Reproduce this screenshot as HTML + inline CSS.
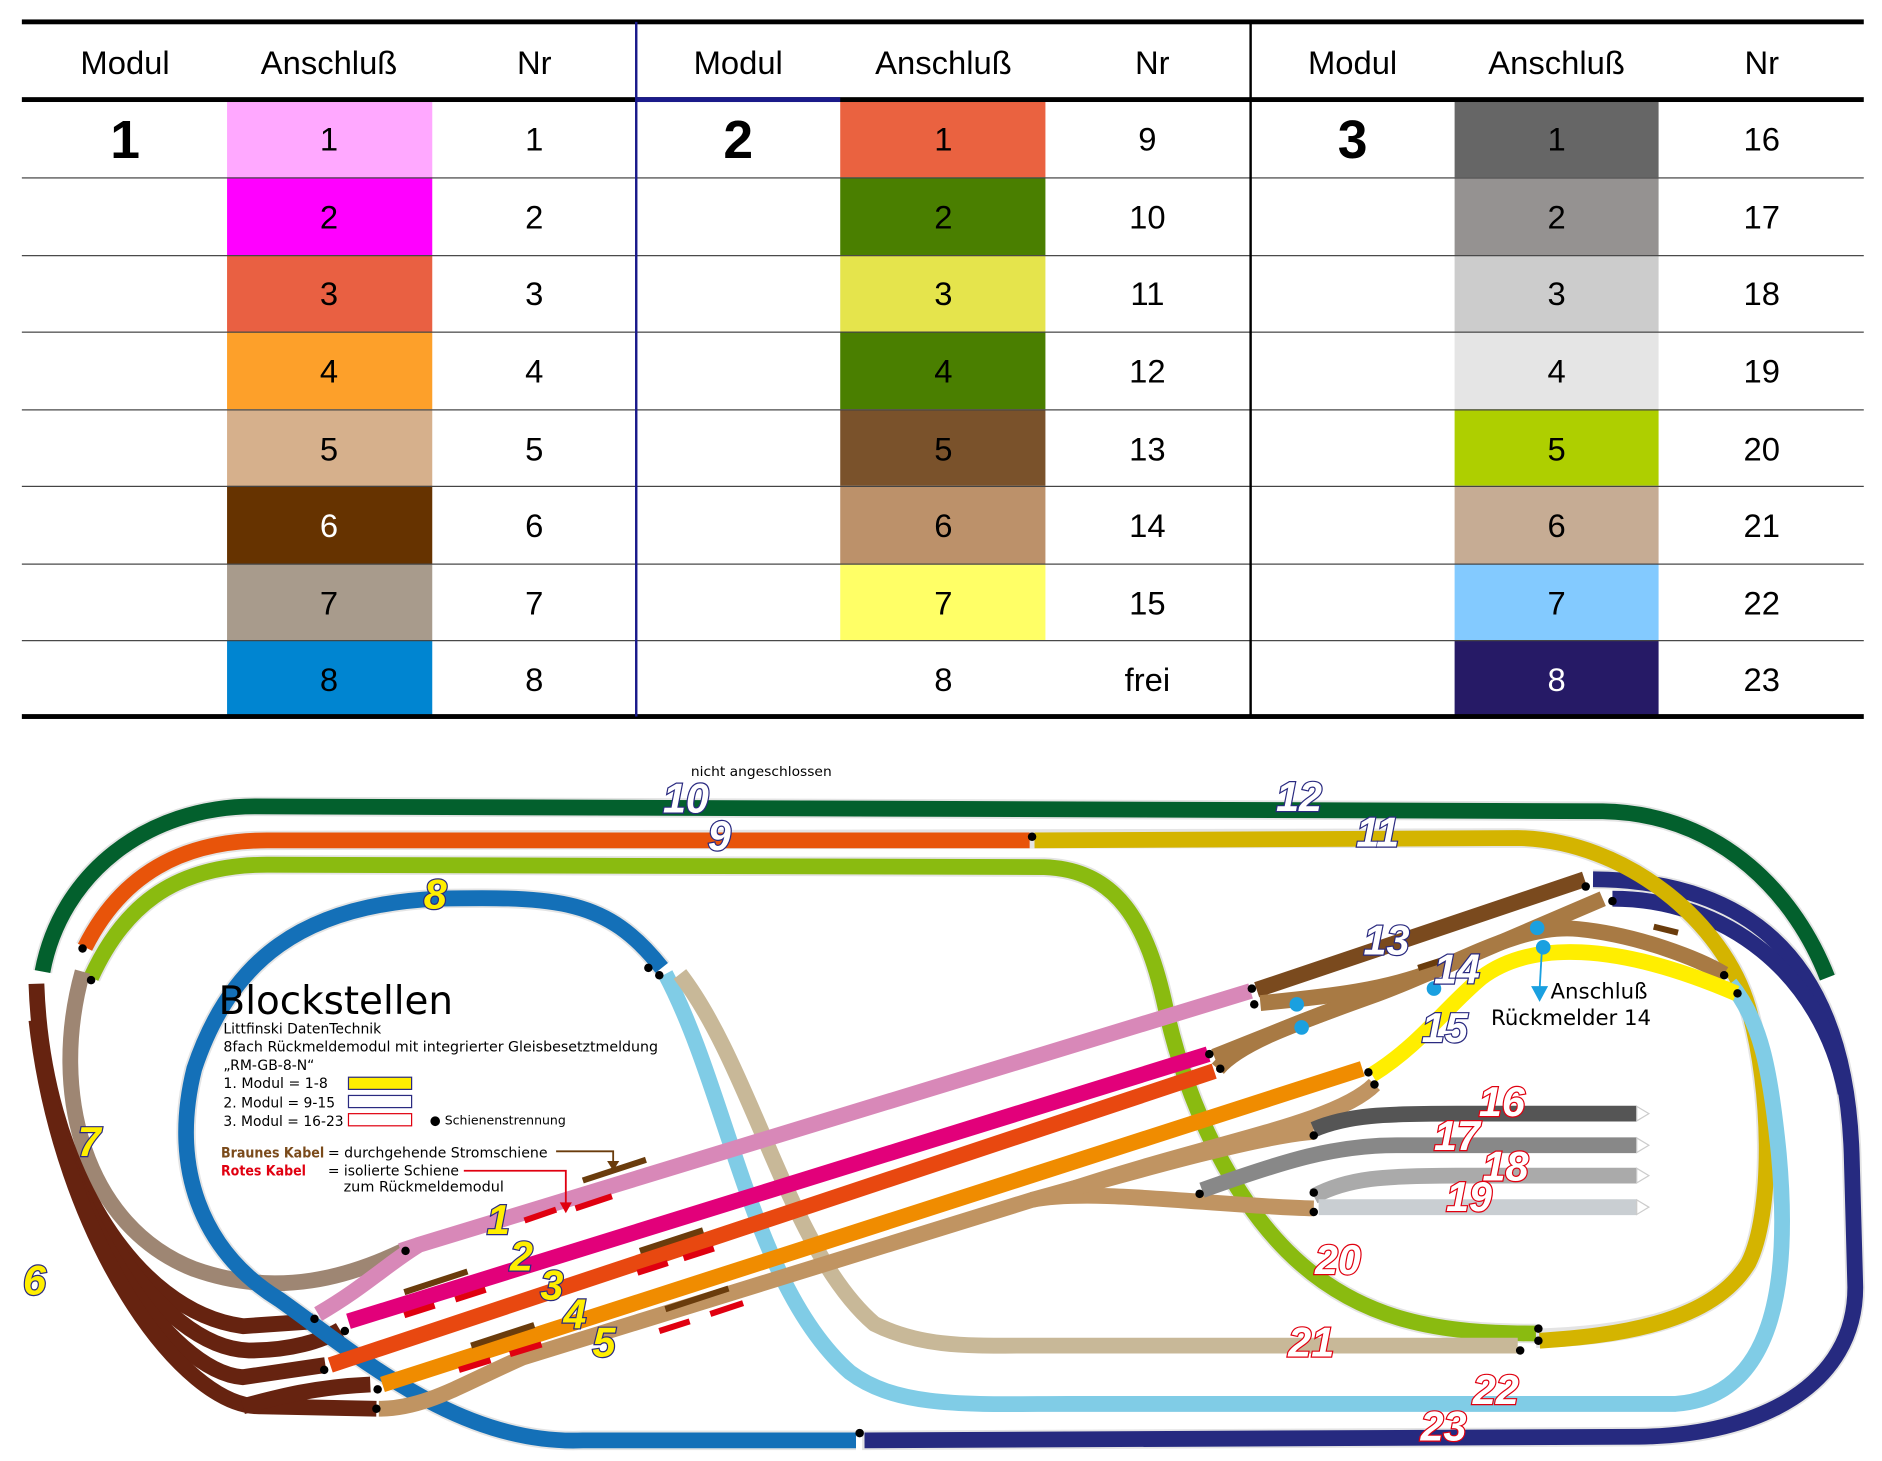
<!DOCTYPE html>
<html><head><meta charset="utf-8"><style>
html,body{margin:0;padding:0;background:#fff;}
svg{display:block;}
.t{font-family:"Liberation Sans Narrow","Liberation Sans",sans-serif;font-size:27px;text-anchor:middle;}
.b{font-family:"Liberation Sans",sans-serif;font-size:44px;font-weight:bold;text-anchor:middle;}
.tr{fill:none;stroke-linecap:butt;stroke-width:13;}
.lab{font-family:"Liberation Sans",sans-serif;font-weight:bold;font-style:italic;stroke-width:2;paint-order:stroke;}
.y{fill:#ffee00;stroke:#2a2a80;}
.w{fill:#fff;stroke:#2a2a80;}
.r{fill:#fff;stroke:#e00010;}
.s{font-family:"DejaVu Sans","Liberation Sans",sans-serif;}
</style></head><body>
<svg width="1882" height="1461" viewBox="0 0 1550 1203" preserveAspectRatio="none" xmlns="http://www.w3.org/2000/svg">
<g>
<rect x="187" y="83" width="169" height="63" fill="#ffa8ff"/>
<rect x="187" y="146" width="169" height="64" fill="#ff00ff"/>
<rect x="187" y="210" width="169" height="63" fill="#e96042"/>
<rect x="187" y="273" width="169" height="64" fill="#fda02a"/>
<rect x="187" y="337" width="169" height="63" fill="#d6b08c"/>
<rect x="187" y="400" width="169" height="64" fill="#663300"/>
<rect x="187" y="464" width="169" height="63" fill="#a89b8c"/>
<rect x="187" y="527" width="169" height="63" fill="#0085d1"/>
<rect x="692" y="83" width="169" height="63" fill="#ea6240"/>
<rect x="692" y="146" width="169" height="64" fill="#4a7f00"/>
<rect x="692" y="210" width="169" height="63" fill="#e5e44c"/>
<rect x="692" y="273" width="169" height="64" fill="#4a7f00"/>
<rect x="692" y="337" width="169" height="63" fill="#7a522b"/>
<rect x="692" y="400" width="169" height="64" fill="#bc916a"/>
<rect x="692" y="464" width="169" height="63" fill="#ffff66"/>
<rect x="1198" y="83" width="168" height="63" fill="#666666"/>
<rect x="1198" y="146" width="168" height="64" fill="#959291"/>
<rect x="1198" y="210" width="168" height="63" fill="#cccccc"/>
<rect x="1198" y="273" width="168" height="64" fill="#e5e5e5"/>
<rect x="1198" y="337" width="168" height="63" fill="#aecf00"/>
<rect x="1198" y="400" width="168" height="64" fill="#c6ac94"/>
<rect x="1198" y="464" width="168" height="63" fill="#83caff"/>
<rect x="1198" y="527" width="168" height="63" fill="#261a66"/>
<rect x="18" y="16" width="1517" height="4" fill="#000"/>
<rect x="18" y="80" width="1517" height="4" fill="#000"/>
<rect x="524" y="80" width="168" height="4" fill="#1a1a8a"/>
<rect x="18" y="588" width="1517" height="4" fill="#000"/>
<g fill="#444">
<rect x="18" y="146" width="1517" height="1"/><rect x="18" y="210" width="1517" height="1"/>
<rect x="18" y="273" width="1517" height="1"/><rect x="18" y="337" width="1517" height="1"/>
<rect x="18" y="400" width="1517" height="1"/><rect x="18" y="464" width="1517" height="1"/>
<rect x="18" y="527" width="1517" height="1"/>
</g>
<rect x="523" y="18" width="2" height="572" fill="#1a1a8a"/>
<rect x="1029" y="18" width="2" height="572" fill="#000"/>
<text class="t" x="103" y="61">Modul</text><text class="t" x="271" y="61">Anschluß</text><text class="t" x="440" y="61">Nr</text>
<text class="t" x="608" y="61">Modul</text><text class="t" x="777" y="61">Anschluß</text><text class="t" x="949" y="61">Nr</text>
<text class="t" x="1114" y="61">Modul</text><text class="t" x="1282" y="61">Anschluß</text><text class="t" x="1451" y="61">Nr</text>
<text class="b" x="103" y="130">1</text><text class="b" x="608" y="130">2</text><text class="b" x="1114" y="130">3</text>
<g class="t">
<text x="271" y="124">1</text><text x="440" y="124">1</text>
<text x="271" y="188">2</text><text x="440" y="188">2</text>
<text x="271" y="251">3</text><text x="440" y="251">3</text>
<text x="271" y="315">4</text><text x="440" y="315">4</text>
<text x="271" y="379">5</text><text x="440" y="379">5</text>
<text x="271" y="442" fill="#fff">6</text><text x="440" y="442">6</text>
<text x="271" y="506">7</text><text x="440" y="506">7</text>
<text x="271" y="569">8</text><text x="440" y="569">8</text>
<text x="777" y="124">1</text><text x="945" y="124">9</text>
<text x="777" y="188">2</text><text x="945" y="188">10</text>
<text x="777" y="251">3</text><text x="945" y="251">11</text>
<text x="777" y="315">4</text><text x="945" y="315">12</text>
<text x="777" y="379">5</text><text x="945" y="379">13</text>
<text x="777" y="442">6</text><text x="945" y="442">14</text>
<text x="777" y="506">7</text><text x="945" y="506">15</text>
<text x="777" y="569">8</text><text x="945" y="569">frei</text>
<text x="1282" y="124">1</text><text x="1451" y="124">16</text>
<text x="1282" y="188">2</text><text x="1451" y="188">17</text>
<text x="1282" y="251">3</text><text x="1451" y="251">18</text>
<text x="1282" y="315">4</text><text x="1451" y="315">19</text>
<text x="1282" y="379">5</text><text x="1451" y="379">20</text>
<text x="1282" y="442">6</text><text x="1451" y="442">21</text>
<text x="1282" y="506">7</text><text x="1451" y="506">22</text>
<text x="1282" y="569" fill="#fff">8</text><text x="1451" y="569">23</text>
</g>
</g>

<g class="tr" stroke-linejoin="round">
<g stroke="#e4e4e4" stroke-width="16">
<path d="M35,800 C50,720 120,664 210,664 L1320,668 C1420,670 1480,740 1505,805"/>
<path d="M70,780 C100,720 150,692 220,692 L1250,690 C1340,692 1420,760 1440,830 C1460,900 1460,1000 1440,1040 C1410,1090 1330,1100 1265,1102"/>
<path d="M75,805 C100,750 140,712 220,712 L860,714 C920,716 945,760 960,830 C980,920 1020,990 1060,1030 C1120,1090 1190,1098 1265,1098"/>
<path d="M1312,724 C1450,725 1520,800 1525,950 L1528,1060 C1528,1140 1450,1182 1350,1183 L710,1186"/>
<path d="M545,797 C500,740 460,738 360,740 C250,745 190,790 160,880 C140,960 165,1030 230,1070 C300,1120 380,1190 480,1186 L705,1186"/>
</g>
<path stroke="#03602d" d="M35,800 C50,720 120,664 210,664 L1320,668 C1420,670 1480,740 1505,805"/>
<path stroke="#262a80" d="M1312,724 C1450,725 1520,800 1525,950 L1528,1060 C1528,1140 1450,1182 1350,1183 L712,1186"/>
<path stroke="#262a80" d="M1328,740 C1420,740 1500,800 1520,900"/>
<path stroke="#d4b400" d="M852,692 L1250,690 C1340,692 1420,760 1440,830 C1460,900 1460,1000 1440,1040 C1410,1090 1330,1100 1268,1104"/>
<path stroke="#e8540a" d="M70,780 C100,720 150,692 220,692 L848,692"/>
<path stroke="#8abb10" d="M75,805 C100,750 140,712 220,712 L860,714 C920,716 945,760 960,830 C980,920 1020,990 1060,1030 C1120,1090 1190,1098 1265,1098"/>
<path stroke="#9e8673" d="M68,800 C40,900 70,1010 160,1045 C230,1070 290,1050 332,1030"/>
<path stroke="#662310" d="M30,810 C35,960 110,1080 200,1092 L258,1088"/>
<path stroke="#662310" d="M34,860 C50,980 130,1110 205,1112 C240,1112 265,1104 280,1095"/>
<path stroke="#662310" d="M34,860 C50,1000 140,1130 200,1134 L268,1124"/>
<path stroke="#662310" d="M30,840 C50,1020 150,1160 215,1158 L310,1160"/>
<path stroke="#662310" d="M200,1158 C230,1150 260,1142 305,1140"/>
<path stroke="#1470b8" d="M545,797 C500,740 460,738 360,740 C250,745 190,790 160,880 C140,960 165,1030 230,1070 C300,1120 380,1190 480,1186 L705,1186"/>
<path stroke="#80cce6" d="M548,802 C600,900 620,1060 700,1130 C740,1160 800,1156 880,1156 L1380,1156 C1460,1150 1475,1060 1465,950 C1458,880 1450,840 1425,810"/>
<path stroke="#c8b898" d="M560,802 C620,880 650,1030 720,1090 C760,1110 800,1108 850,1108 L1250,1108"/>
<path stroke="#c09462" d="M312,1160 C350,1160 380,1140 430,1118 L850,988 C900,978 1000,993 1082,995"/>
<path stroke="#c09462" d="M850,988 C950,960 1040,935 1082,932"/>
<path stroke="#c09462" d="M880,980 C1000,940 1100,925 1132,893"/>
<path stroke="#f08c00" d="M315,1140 L1122,880"/>
<path stroke="#e84810" d="M272,1124 L1000,882"/>
<path stroke="#e2007a" d="M287,1088 L995,868"/>
<path stroke="#d888b8" d="M262,1082 C300,1060 320,1040 345,1025 L1030,816"/>
<path stroke="#d888b8" d="M330,1030 L345,1025"/>
<path stroke="#7a4a1e" d="M1035,815 L1305,724"/>
<path stroke="#a87a44" d="M1038,826 C1100,820 1140,815 1180,800 L1320,740"/>
<path stroke="#a87a44" d="M1003,880 C1020,860 1060,845 1130,820 C1200,795 1250,760 1300,765 C1350,770 1400,790 1420,802"/>
<path stroke="#a87a44" d="M1000,870 C1050,850 1100,830 1150,812"/>
<path stroke="#ffee00" d="M1130,885 C1170,860 1190,830 1220,805 C1260,775 1330,775 1430,818"/>
<path stroke="#555555" d="M1082,930 C1110,918 1140,917 1200,917 L1348,917"/>
<path stroke="#888888" d="M990,980 C1060,955 1100,943 1150,943 L1348,943"/>
<path stroke="#aaaaaa" d="M1082,985 C1110,970 1140,968 1200,968 L1348,968"/>
<path stroke="#c9ced2" d="M1086,994 L1348,994"/>
</g>
<g fill="#fff" stroke="#ccc" stroke-width="1">
<path d="M1348,911 L1358,917 L1348,923Z"/><path d="M1348,937 L1358,943 L1348,949Z"/>
<path d="M1348,962 L1358,968 L1348,974Z"/><path d="M1348,988 L1358,994 L1348,1000Z"/>
</g>
<g stroke-width="5">
<g stroke="#6a3c0c">
<path d="M480,972 L532,955"/><path d="M333,1064 L385,1047"/><path d="M527,1030 L579,1013"/>
<path d="M388,1108 L440,1091"/><path d="M548,1078 L600,1061"/><path d="M1168,797 L1190,790"/><path d="M1362,763 L1382,768"/>
</g>
<g stroke="#e00010">
<path d="M432,1005 L458,996"/><path d="M474,995 L504,985"/><path d="M333,1083 L358,1075"/><path d="M375,1070 L400,1062"/>
<path d="M525,1048 L550,1040"/><path d="M563,1036 L588,1028"/><path d="M378,1128 L404,1120"/><path d="M420,1115 L446,1107"/>
<path d="M543,1096 L568,1088"/><path d="M585,1082 L612,1073"/>
</g>
</g>
<path d="M458,948 L505,948 L505,958" stroke="#6a3c0c" stroke-width="1.5" fill="none"/>
<path d="M500,956 L510,956 L505,964Z" fill="#6a3c0c"/>
<path d="M382,964 L466,964 L466,992" stroke="#e00010" stroke-width="1.5" fill="none"/>
<path d="M461,990 L471,990 L466,999Z" fill="#e00010"/>
<g fill="#1aa0e0">
<circle cx="1068" cy="827" r="6"/><circle cx="1072" cy="846" r="6"/><circle cx="1181" cy="814" r="6"/>
<circle cx="1266" cy="764" r="6"/><circle cx="1271" cy="780" r="6"/>
</g>
<path d="M1270,780 L1268,815" stroke="#1aa0e0" stroke-width="1.5"/>
<path d="M1261,812 L1275,812 L1268,825Z" fill="#1aa0e0"/>
<g fill="#000">
<circle cx="850" cy="689" r="3.5"/><circle cx="68" cy="781" r="3.5"/><circle cx="75" cy="807" r="3.5"/>
<circle cx="534" cy="797" r="3.5"/><circle cx="543" cy="803" r="3.5"/><circle cx="334" cy="1030" r="3.5"/>
<circle cx="259" cy="1086" r="3.5"/><circle cx="284" cy="1096" r="3.5"/><circle cx="267" cy="1128" r="3.5"/>
<circle cx="311" cy="1144" r="3.5"/><circle cx="310" cy="1160" r="3.5"/><circle cx="708" cy="1180" r="3.5"/>
<circle cx="1031" cy="814" r="3.5"/><circle cx="1033" cy="827" r="3.5"/><circle cx="996" cy="868" r="3.5"/>
<circle cx="1005" cy="880" r="3.5"/><circle cx="1127" cy="883" r="3.5"/><circle cx="1132" cy="893" r="3.5"/>
<circle cx="1306" cy="730" r="3.5"/><circle cx="1328" cy="742" r="3.5"/><circle cx="1420" cy="803" r="3.5"/>
<circle cx="1431" cy="818" r="3.5"/><circle cx="1082" cy="935" r="3.5"/><circle cx="988" cy="983" r="3.5"/>
<circle cx="1082" cy="982" r="3.5"/><circle cx="1082" cy="998" r="3.5"/><circle cx="1267" cy="1094" r="3.5"/>
<circle cx="1267" cy="1104" r="3.5"/><circle cx="1252" cy="1112" r="3.5"/>
</g>
<g class="s">
<text x="180" y="835" font-size="32">Blockstellen</text>
<text x="184" y="851" font-size="11.5" textLength="130" lengthAdjust="spacingAndGlyphs">Littfinski DatenTechnik</text>
<text x="184" y="866" font-size="11.5" textLength="358" lengthAdjust="spacingAndGlyphs">8fach Rückmeldemodul mit integrierter Gleisbesetztmeldung</text>
<text x="184" y="881" font-size="11.5">„RM-GB-8-N“</text>
<text x="184" y="896" font-size="11.5" textLength="86" lengthAdjust="spacingAndGlyphs">1. Modul = 1-8</text>
<text x="184" y="912" font-size="11.5" textLength="92" lengthAdjust="spacingAndGlyphs">2. Modul = 9-15</text>
<text x="184" y="927" font-size="11.5" textLength="99" lengthAdjust="spacingAndGlyphs">3. Modul = 16-23</text>
<text x="354" y="926" font-size="10.5" textLength="112" lengthAdjust="spacingAndGlyphs">● Schienenstrennung</text>
<text x="182" y="953" font-size="11.5" font-weight="bold" fill="#7a4a1a" textLength="85" lengthAdjust="spacingAndGlyphs">Braunes Kabel</text>
<text x="270" y="953" font-size="11.5" textLength="181" lengthAdjust="spacingAndGlyphs">= durchgehende Stromschiene</text>
<text x="182" y="968" font-size="11.5" font-weight="bold" fill="#e00010" textLength="70" lengthAdjust="spacingAndGlyphs">Rotes Kabel</text>
<text x="270" y="968" font-size="11.5" textLength="108" lengthAdjust="spacingAndGlyphs">= isolierte Schiene</text>
<text x="283" y="981" font-size="11.5" textLength="132" lengthAdjust="spacingAndGlyphs">zum Rückmeldemodul</text>
<text x="569" y="639" font-size="11" textLength="116" lengthAdjust="spacingAndGlyphs">nicht angeschlossen</text>
<text x="1277" y="822" font-size="17.5">Anschluß</text>
<text x="1228" y="844" font-size="17.5">Rückmelder 14</text>
</g>
<rect x="287" y="887" width="52" height="10" fill="#ffee00" stroke="#2a2a80" stroke-width="1"/>
<rect x="287" y="902" width="52" height="10" fill="#fff" stroke="#2a2a80" stroke-width="1"/>
<rect x="287" y="917" width="52" height="10" fill="#fff" stroke="#e00010" stroke-width="1"/>
<g class="lab" font-size="34">
<text class="y" x="349" y="748">8</text>
<text class="y" x="64" y="952">7</text>
<text class="y" x="19" y="1066">6</text>
<text class="y" x="401" y="1016">1</text>
<text class="y" x="420" y="1046">2</text>
<text class="y" x="445" y="1070">3</text>
<text class="y" x="464" y="1094">4</text>
<text class="y" x="488" y="1117">5</text>
<text class="w" x="546" y="669">10</text>
<text class="w" x="583" y="700">9</text>
<text class="w" x="1051" y="668">12</text>
<text class="w" x="1117" y="697">11</text>
<text class="w" x="1123" y="786">13</text>
<text class="w" x="1181" y="810">14</text>
<text class="w" x="1171" y="858">15</text>
<text class="r" x="1218" y="919">16</text>
<text class="r" x="1181" y="947">17</text>
<text class="r" x="1221" y="972">18</text>
<text class="r" x="1191" y="997">19</text>
<text class="r" x="1083" y="1049">20</text>
<text class="r" x="1061" y="1117">21</text>
<text class="r" x="1213" y="1156">22</text>
<text class="r" x="1170" y="1186">23</text>
</g>
</svg>
</body></html>
